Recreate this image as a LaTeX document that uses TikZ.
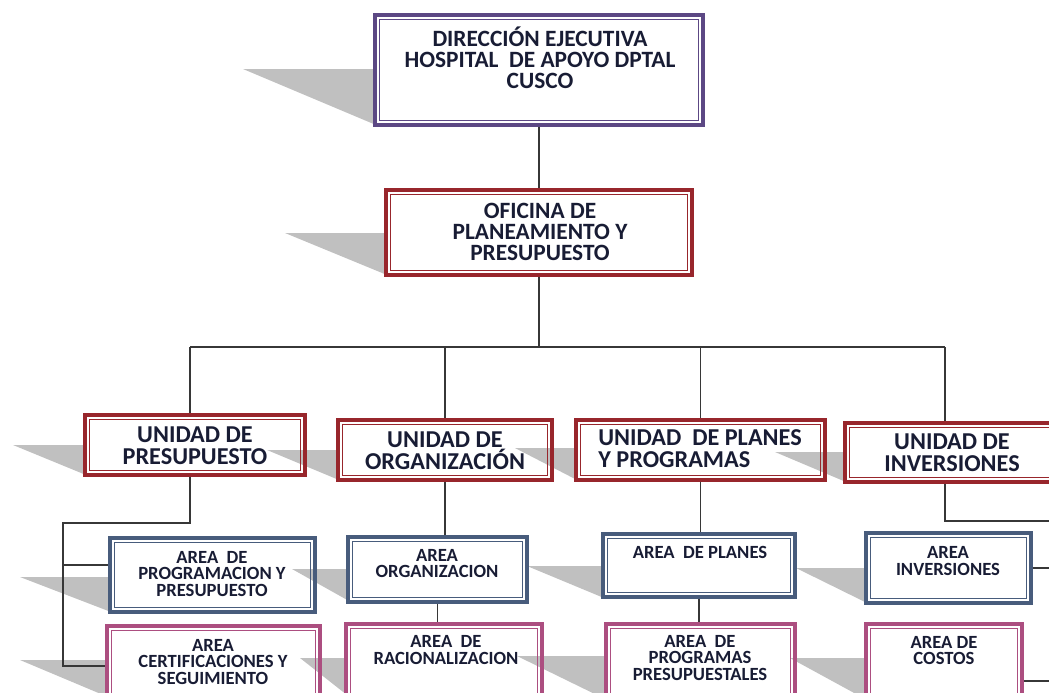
\documentclass[tikz,border=0pt]{standalone}
\usepackage{fontspec}
\setmainfont{Carlito}
\usetikzlibrary{positioning}
\definecolor{dirpurple}{RGB}{92,72,132}
\definecolor{ofired}{RGB}{152,38,44}
\definecolor{areablue}{RGB}{72,92,124}
\definecolor{areapink}{RGB}{172,78,128}
\definecolor{shadegray}{RGB}{192,192,192}
\definecolor{inkblue}{RGB}{24,28,52}
\definecolor{linkgray}{RGB}{55,55,55}

\begin{document}
\begin{tikzpicture}[x=0.02cm,y=-0.02cm,
    dbox/.style={draw=#1,line width=1.8pt,inner sep=0pt,
      path picture={\draw[#1,line width=0.6pt]
        ([shift={(2.6pt,-2.6pt)}]path picture bounding box.north west) rectangle
        ([shift={(-2.6pt,2.6pt)}]path picture bounding box.south east);}},
    wh/.style 2 args={minimum width=#1*0.02cm,minimum height=#2*0.02cm},
    shadow/.style={fill=shadegray},
    link/.style={draw=linkgray,line width=0.85pt},
    bigtxt/.style={inner sep=0pt,align=center,text=inkblue,font=\fontsize{13.3}{12}\selectfont\bfseries},
    unittxt/.style={inner sep=0pt,align=center,text=inkblue,font=\fontsize{13.8}{12.5}\selectfont\bfseries},
    areatxt/.style={inner sep=0pt,align=center,text=inkblue,font=\fontsize{10.6}{9.6}\selectfont\bfseries}]
    \useasboundingbox (0,0) rectangle (1049,693);
    \clip (0,0) rectangle (1049,693);

    % shadows
    \fill[shadow] (243,69) -- (376,69) -- (376,125) -- cycle;
    \fill[shadow] (285,233) -- (387,233) -- (387,275) -- cycle;
    \fill[shadow] (13,445) -- (86,445) -- (86,475) -- cycle;
    \fill[shadow] (267,450) -- (339,450) -- (339,480) -- cycle;
    \fill[shadow] (515,448) -- (577,448) -- (577,480) -- cycle;
    \fill[shadow] (775,452) -- (846,452) -- (846,482) -- cycle;
    \fill[shadow] (20,577) -- (111,577) -- (111,612) -- cycle;
    \fill[shadow] (292,569) -- (349,569) -- (349,601) -- cycle;
    \fill[shadow] (527,566) -- (604,566) -- (604,598) -- cycle;
    \fill[shadow] (796,568) -- (867,568) -- (867,603) -- cycle;
    \fill[shadow] (20,660) -- (108,660) -- (108,697) -- cycle;
    \fill[shadow] (300,658) -- (347,658) -- (347,695) -- cycle;
    \fill[shadow] (517,656) -- (607,656) -- (607,700) -- cycle;
    \fill[shadow] (790,658) -- (867,658) -- (867,700) -- cycle;

    % boxes
    \node[dbox=dirpurple,wh={328}{110}] (dir) at (539,70) {};
    \node[dbox=ofired,wh={306}{85}] (ofi) at (539,232.5) {};
    \node[dbox=ofired,wh={220}{60}] (upre) at (195,445) {};
    \node[dbox=ofired,wh={214}{60}] (uorg) at (445,450) {};
    \node[dbox=ofired,wh={249}{60}] (upla) at (700.5,450) {};
    \node[dbox=ofired,wh={220}{59}] (uinv) at (955,452.5) {};
    \node[dbox=areablue,wh={205}{74}] (apro) at (212.5,575) {};
    \node[dbox=areablue,wh={179}{65}] (aorg) at (437.5,569.5) {};
    \node[dbox=areablue,wh={192}{63}] (apla) at (699,565.5) {};
    \node[dbox=areablue,wh={165}{70}] (ainv) at (948.5,568) {};
    \node[dbox=areapink,wh={213}{80}] (acer) at (213.5,666) {};
    \node[dbox=areapink,wh={196}{82}] (arac) at (444,665) {};
    \node[dbox=areapink,wh={189}{82}] (aprg) at (700.5,665) {};
    \node[dbox=areapink,wh={156}{82}] (acos) at (944,665) {};

    % texts
    \node[bigtxt] (dirtxt) at (540,58) {DIRECCIÓN EJECUTIVA\\HOSPITAL\ \ DE APOYO DPTAL\\CUSCO};
    \node[bigtxt] (ofitxt) at (540,232) {OFICINA DE\\PLANEAMIENTO Y\\PRESUPUESTO};
    \node[unittxt] (upretxt) at (195,446) {UNIDAD DE\\PRESUPUESTO};
    \node[unittxt] (uorgtxt) at (445,450.5) {UNIDAD DE\\ORGANIZACIÓN};
    \node[unittxt,anchor=west,align=left] (uplatxt) at (598,449) {UNIDAD\ \ DE PLANES\\Y PROGRAMAS};
    \node[unittxt] (uinvtxt) at (952,452.5) {UNIDAD DE\\INVERSIONES};
    \node[areatxt] (aprotxt) at (212,574) {AREA\ \ DE\\PROGRAMACION Y\\PRESUPUESTO};
    \node[areatxt] (acertxt) at (213,662) {AREA\\CERTIFICACIONES Y\\SEGUIMIENTO};
    \node[areatxt] (aorgtxt) at (437,563.5) {AREA\\ORGANIZACION};
    \node[areatxt] (aractxt) at (446,650) {AREA\ \ DE\\RACIONALIZACION};
    \node[areatxt] (aplatxt) at (700,552) {AREA\ \ DE PLANES};
    \node[areatxt] (aprgtxt) at (700,658) {AREA\ \ DE\\PROGRAMAS\\PRESUPUESTALES};
    \node[areatxt] (ainvtxt) at (948,561) {AREA\\INVERSIONES};
    \node[areatxt] (acostxt) at (944,650.5) {AREA DE\\COSTOS};

    % connectors
    \coordinate (busL) at (190,347);
    \coordinate (busR) at (945,347);
    \coordinate (preL) at (63,523);
    \coordinate (preM) at (63,565);
    \coordinate (invR) at (1060,521);
    \draw[link] (dir.south) -- (ofi.north);
    \draw[link] (ofi.south) -- (ofi.south |- busL);
    \draw[link] (busL) -- (busR);
    \draw[link] (busL) -- (busL |- upre.north);
    \draw[link] (uorg.north |- busL) -- (uorg.north);
    \draw[link] (upla.north |- busL) -- (upla.north);
    \draw[link] (busR) -- (busR |- uinv.north);
    \draw[link] (busL |- upre.south) |- (preL) |- (acer.west);
    \draw[link] (preM) -- (preM -| apro.west);
    \draw[link] (uorg.south) -- (uorg.south |- aorg.north);
    \draw[link] (aorg.south) -- (aorg.south |- arac.north);
    \draw[link] (upla.south) -- (upla.south |- apla.north);
    \draw[link] (apla.south) -- (apla.south |- aprg.north);
    \draw[link] (busR |- uinv.south) |- (invR);
    \draw[link] (ainv.east) -- ++(30,0);
    \draw[link] ([yshift=-9pt]acos.east) -- ++(30,0);
\end{tikzpicture}
\end{document}
